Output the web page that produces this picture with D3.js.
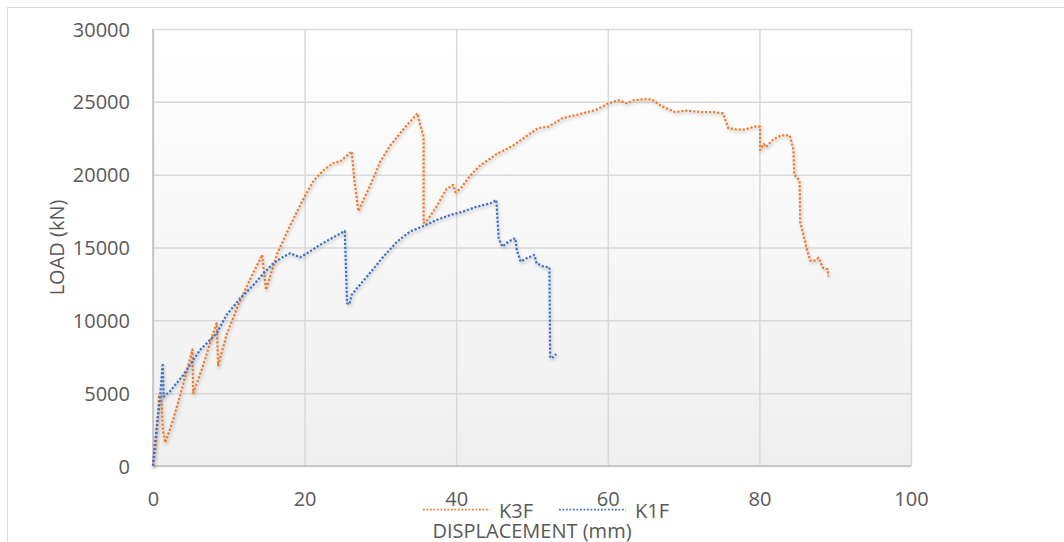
<!DOCTYPE html>
<html><head><meta charset="utf-8">
<script src="https://cdn.jsdelivr.net/npm/d3@7"></script>
<style>html,body{margin:0;padding:0;background:#fff;}svg{display:block;font-family:"Open Sans",sans-serif;}</style>
</head><body>
<svg id="c" width="1064" height="542"></svg>
<script>
const xTicks = [0, 20, 40, 60, 80, 100];
const yTicks = [0, 5000, 10000, 15000, 20000, 25000, 30000];
const seriesNames = ["K3F", "K1F"];
const k3fX = [0,0.4,0.8,1.1,1.3,1.6,2.5,3.5,4.5,5.2,5.3,6.5,7.5,8.4,8.6,9.7,11.2,12.8,14.4,14.9,16.4,18.1,19.8,21.2,22.7,23.8,24.7,26.2,26.6,27.1,28.6,30.0,31.3,33.0,34.9,35.2,35.7,35.7,36.1,37.4,38.7,39.6,39.9,40.5,41.8,43.1,45.3,47.5,49.7,50.8,52.2,54.1,55.9,58.1,58.7,60.1,61.4,62.5,63.4,65.3,66.0,67.1,68.9,70.4,72.2,73.9,75.2,75.9,77.0,78.1,79.4,80.1,80.1,80.6,80.9,81.8,82.9,84.0,84.5,84.6,85.3,85.4,86.0,86.3,86.7,87.3,87.8,88.4,89.0,89.1];
const k3fY = [0,1500,4800,4800,2500,1600,2900,4700,6600,8000,5000,6700,8400,9800,6900,9000,11000,12800,14500,12100,14600,16500,18300,19600,20400,20800,20900,21600,19500,17500,19200,20900,22000,23100,24200,23500,22600,16700,16800,17800,19000,19300,18800,19000,19900,20600,21400,22000,22800,23200,23300,23900,24100,24400,24500,24900,25100,24900,25100,25200,25100,24700,24300,24400,24300,24300,24200,23200,23100,23100,23300,23300,21700,22100,21900,22400,22700,22700,21700,20000,19600,16700,15500,14800,14100,14100,14300,13600,13500,13000];
const k1fX = [0,0.3,0.9,1.28,1.4,2.2,4.0,6.2,8.4,9.7,11.5,13.2,14.6,15.9,17.2,18.1,19.4,20.3,22.0,23.8,25.3,25.6,25.9,26.2,26.9,28.6,30.4,32.2,33.9,35.7,37.4,39.2,40.9,42.7,44.5,45.3,45.6,46.1,46.9,47.8,48.0,48.5,49.3,50.3,50.6,51.5,52.3,52.4,52.6,53.2];
const k1fY = [0,1800,4500,7050,4760,5100,6250,7960,9110,10370,11510,12400,13230,13920,14370,14600,14330,14600,15170,15700,16130,11170,11100,11740,12200,13230,14370,15400,16090,16480,16890,17230,17460,17800,18030,18260,15630,15060,15400,15630,14830,14030,14260,14490,13920,13690,13640,7500,7390,7690];
const colors = ["#ED7D31", "#4472C4"];

const svg = d3.select("#c");
const L = 153, R = 911, T = 29, B = 466;
const x = d3.scaleLinear().domain([0, 100]).range([L, R]);
const y = d3.scaleLinear().domain([0, 30000]).range([B, T]);

const defs = svg.append("defs");
const grad = defs.append("linearGradient").attr("id","bg").attr("x1",0).attr("y1",0).attr("x2",0).attr("y2",1);
grad.append("stop").attr("offset","0").attr("stop-color","#ffffff");
grad.append("stop").attr("offset","1").attr("stop-color","#efefef");
const f = defs.append("filter").attr("id","sh").attr("x","-5%").attr("y","-5%").attr("width","110%").attr("height","115%");
f.append("feDropShadow").attr("dx",1).attr("dy",2).attr("stdDeviation",1.5).attr("flood-color","#000").attr("flood-opacity",0.25);

// outer chart border
svg.append("rect").attr("x",7.5).attr("y",7.5).attr("width",1100).attr("height",600)
  .attr("fill","#fff").attr("stroke","#d9d9d9").attr("stroke-width",1);

svg.append("rect").attr("x",L).attr("y",T).attr("width",R-L).attr("height",B-T).attr("fill","url(#bg)");

// gridlines
const gx = d3.axisBottom(x).tickValues(xTicks).tickSize(-(B-T)).tickFormat("");
const gy = d3.axisLeft(y).tickValues(yTicks).tickSize(-(R-L)).tickFormat("");
svg.append("g").attr("transform",`translate(0,${B})`).call(gx)
  .call(g=>g.select(".domain").remove())
  .call(g=>g.selectAll("line").attr("stroke","#d9d9d9").attr("stroke-width",1.5));
svg.append("g").attr("transform",`translate(${L},0)`).call(gy)
  .call(g=>g.select(".domain").remove())
  .call(g=>g.selectAll("line").attr("stroke","#d9d9d9").attr("stroke-width",1.5));

// axis lines
svg.append("line").attr("x1",L).attr("x2",L).attr("y1",T).attr("y2",B).attr("stroke","#bfbfbf").attr("stroke-width",1.5);
svg.append("line").attr("x1",L).attr("x2",R).attr("y1",B).attr("y2",B).attr("stroke","#bfbfbf").attr("stroke-width",1.5);

// tick labels via axes
const ax = d3.axisBottom(x).tickValues(xTicks).tickSize(0).tickPadding(0).tickFormat(d3.format("d"));
svg.append("g").attr("transform",`translate(0,${B})`).call(ax)
  .call(g=>g.select(".domain").remove())
  .call(g=>g.selectAll("text").attr("y",40).attr("dy",0).attr("font-size",20).attr("fill","#595959").attr("font-family","Open Sans, sans-serif"));
const ay = d3.axisLeft(y).tickValues(yTicks).tickSize(0).tickPadding(23).tickFormat(d3.format("d"));
svg.append("g").attr("transform",`translate(${L},0)`).call(ay)
  .call(g=>g.select(".domain").remove())
  .call(g=>g.selectAll("text").attr("font-size",20).attr("fill","#595959").attr("dy","0.35em").attr("font-family","Open Sans, sans-serif"));

// series
const series = [
  {name: seriesNames[0], xs: k3fX, ys: k3fY, color: colors[0]},
  {name: seriesNames[1], xs: k1fX, ys: k1fY, color: colors[1]}
];
const line = d3.line().x(d=>x(d[0])).y(d=>y(d[1]));
series.forEach(s=>{
  const pts = s.xs.map((v,i)=>[v, s.ys[i]]);
  svg.append("path").datum(pts).attr("d",line).attr("fill","none")
    .attr("stroke",s.color).attr("stroke-width",2.25).attr("stroke-dasharray","2.25,1.75")
    .attr("stroke-linejoin","round").attr("filter","url(#sh)");
});

// legend
const legX = [423, 559];
series.forEach((s,i)=>{
  svg.append("line").attr("x1",legX[i]).attr("x2",legX[i]+67).attr("y1",509.5).attr("y2",509.5)
    .attr("stroke",s.color).attr("stroke-width",1.75).attr("stroke-dasharray","1.75,1.75");
  svg.append("text").attr("x",legX[i]+76).attr("y",518).attr("font-size",20).attr("fill","#595959").text(s.name);
});

// axis titles
svg.append("text").attr("x",(L+R)/2).attr("y",538).attr("text-anchor","middle").attr("font-size",20).attr("fill","#595959").text("DISPLACEMENT (mm)");
svg.append("text").attr("transform",`translate(64,${(T+B)/2}) rotate(-90)`).attr("text-anchor","middle").attr("font-size",20).attr("fill","#595959").text("LOAD (kN)");
</script>
</body></html>
